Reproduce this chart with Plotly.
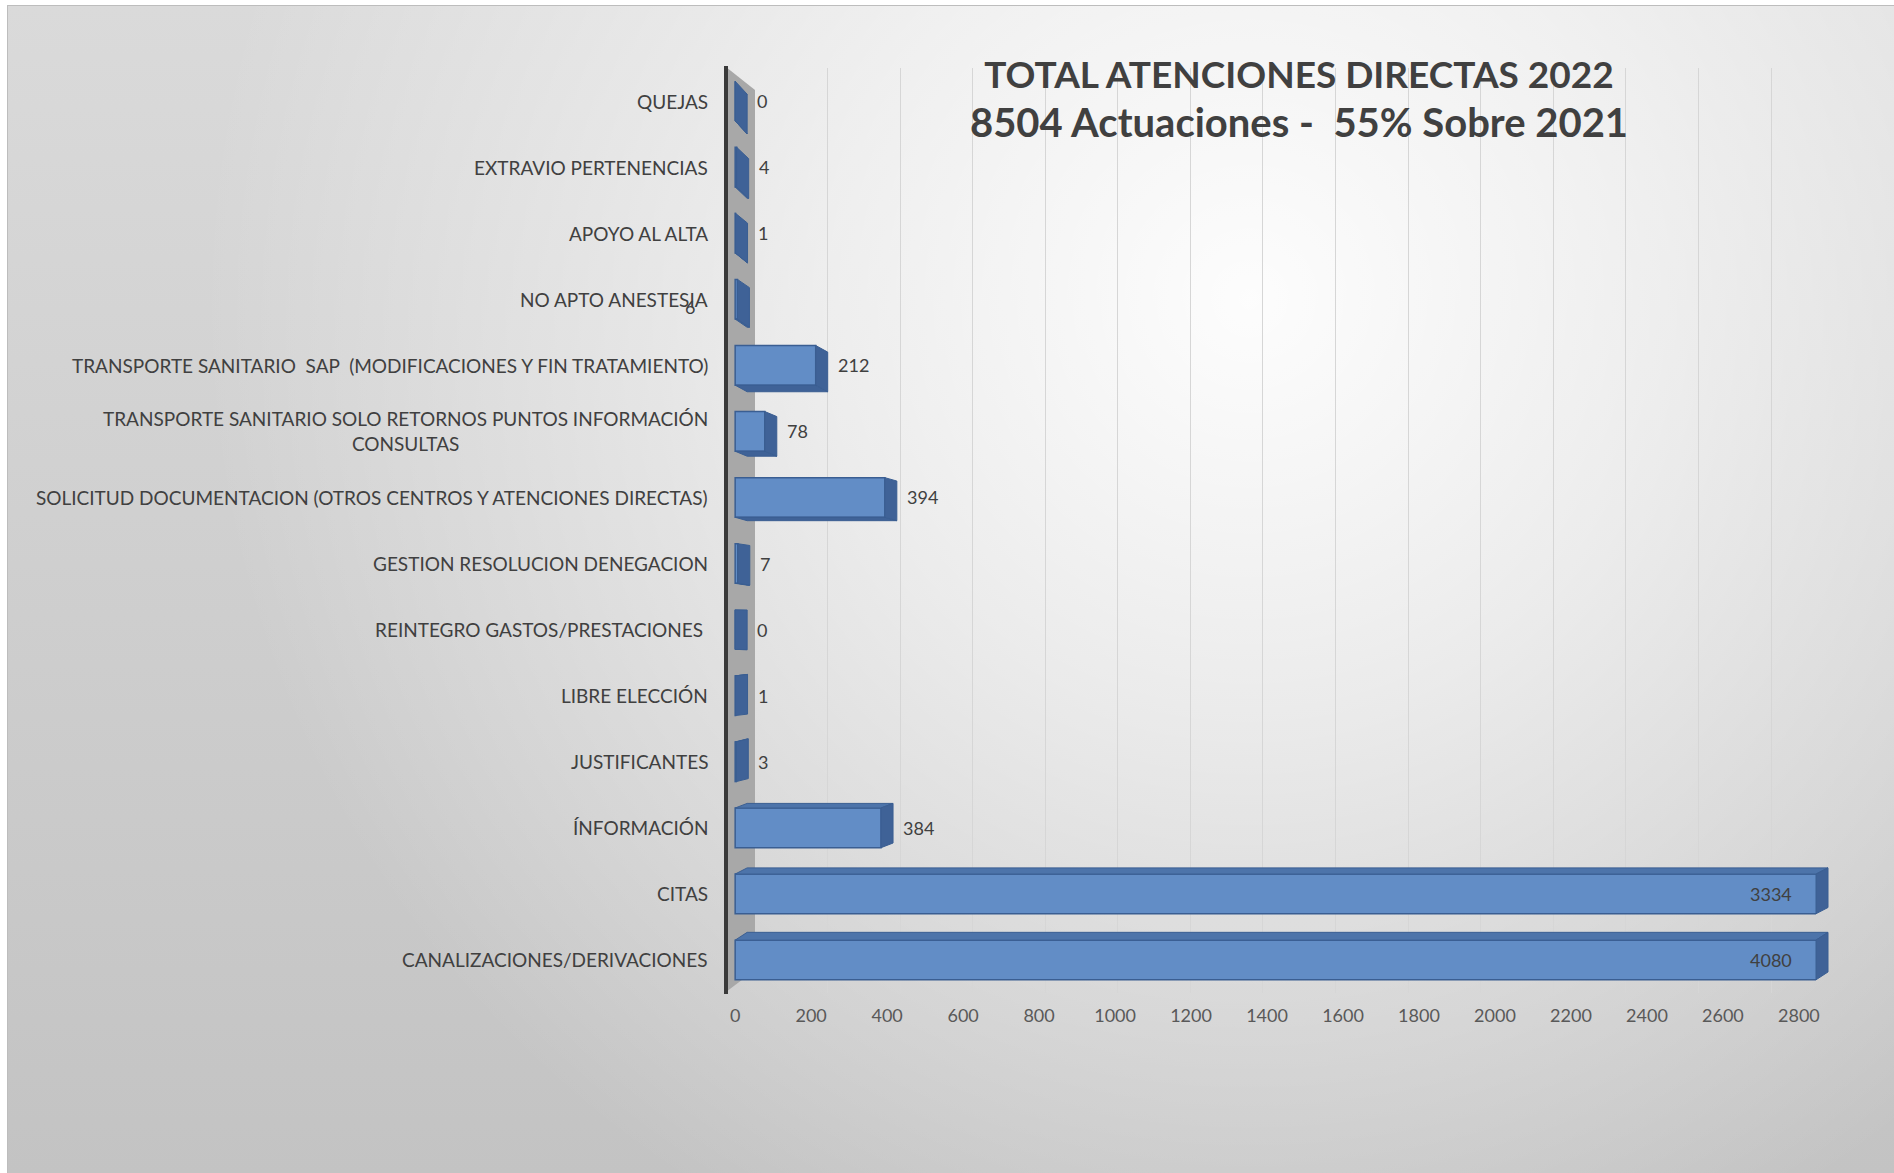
import base64
import plotly.graph_objects as go

# ---------------------------------------------------------------- data
categories = [
    "QUEJAS",
    "EXTRAVIO PERTENENCIAS",
    "APOYO AL ALTA",
    "NO APTO ANESTESIA",
    "TRANSPORTE SANITARIO  SAP  (MODIFICACIONES Y FIN TRATAMIENTO)",
    "TRANSPORTE SANITARIO SOLO RETORNOS PUNTOS INFORMACIÓN\nCONSULTAS",
    "SOLICITUD DOCUMENTACION (OTROS CENTROS Y ATENCIONES DIRECTAS)",
    "GESTION RESOLUCION DENEGACION",
    "REINTEGRO GASTOS/PRESTACIONES ",
    "LIBRE ELECCIÓN",
    "JUSTIFICANTES",
    "ÍNFORMACIÓN",
    "CITAS",
    "CANALIZACIONES/DERIVACIONES",
]
values = [0, 4, 1, 6, 212, 78, 394, 7, 0, 1, 3, 384, 3334, 4080]
x_ticks = [0, 200, 400, 600, 800, 1000, 1200, 1400, 1600, 1800, 2000, 2200, 2400, 2600, 2800]
title_lines = ["TOTAL ATENCIONES DIRECTAS 2022", "8504 Actuaciones - \u00a055% Sobre 2021"]

# ---------------------------------------------------------------- geometry / style
FIG_W, FIG_H = 1894, 1173
L, R, T, B = 723, 1816, 68, 993          # plot area in pixels
W, HP = R - L, B - T
X_LO, X_HI = -32, 2845                   # front-plane axis range
X2_LO, X2_HI = -88, 2924                 # back-wall grid range (perspective offset)
BAR_W = 0.6
DEPTH_X = 12                              # 3D depth, pixels

TXT = "#404040"
FRONT = "#628dc6"
EDGE = "#3a5e92"
SIDE = "#3f6297"
TOPF = "#4d74aa"
FONT = "Lato, Carlito, Calibri, sans-serif"

n = len(categories)


def px(xp):
    return (xp - L) / W


def py(yp):
    return 1 - (yp - T) / HP


def xpix(v):
    v = min(v, X_HI)
    return L + (v - X_LO) / (X_HI - X_LO) * W


def path(points):
    return "M " + " L ".join(f"{px(a):.5f},{py(b):.5f}" for a, b in points) + " Z"


# ---------------------------------------------------------------- background
svg = f"""<svg xmlns="http://www.w3.org/2000/svg" width="{FIG_W}" height="{FIG_H}" viewBox="0 0 {FIG_W} {FIG_H}">
<defs>
<linearGradient id="base" x1="0" y1="0" x2="0" y2="1">
<stop offset="0" stop-color="#dadada"/><stop offset="1" stop-color="#c3c3c3"/>
</linearGradient>
<radialGradient id="glow" gradientUnits="userSpaceOnUse" cx="1250" cy="300" r="1050">
<stop offset="0" stop-color="#ffffff" stop-opacity="0.95"/>
<stop offset="0.4" stop-color="#ffffff" stop-opacity="0.6"/>
<stop offset="1" stop-color="#ffffff" stop-opacity="0"/>
</radialGradient>
</defs>
<rect x="7.5" y="5.5" width="{FIG_W - 7}" height="{FIG_H - 5}" fill="url(#base)" stroke="#bdbdbd" stroke-width="1"/>
<rect x="8" y="6" width="{FIG_W - 8}" height="{FIG_H - 6}" fill="url(#glow)"/>
</svg>"""
bg_src = "data:image/svg+xml;base64," + base64.b64encode(svg.encode("utf-8")).decode("ascii")

# ---------------------------------------------------------------- figure
fig = go.Figure()

fig.add_trace(go.Bar(
    orientation="h",
    x=values,
    y=categories,
    width=BAR_W,
    marker=dict(color=FRONT, line=dict(color=EDGE, width=1.5)),
    hoverinfo="x+y",
    showlegend=False,
))

# empty trace that carries the back-wall grid axis
fig.add_trace(go.Scatter(x=[], y=[], xaxis="x2", yaxis="y", showlegend=False, hoverinfo="skip"))

shapes = []

# side wall of the 3D frame and the vertical axis line
shapes.append(dict(type="path", xref="paper", yref="paper", layer="below",
                   path=path([(726, 67), (755, 90), (755, 970), (726, 992)]),
                   fillcolor="#a8a8a8", line=dict(width=0)))
shapes.append(dict(type="line", xref="paper", yref="paper", layer="above",
                   x0=px(726), x1=px(726), y0=py(66), y1=py(994),
                   line=dict(color="#3a3a3a", width=4)))

# 3D faces of every bar (end cap, top or bottom face)
row_h = HP / n
for i, v in enumerate(values):
    yc = T + (i + 0.5) * row_h
    yt, yb = yc - BAR_W / 2 * row_h, yc + BAR_W / 2 * row_h
    x0, xe = xpix(0), xpix(v)
    dy = 13 - 1.6 * i
    if dy < 0:
        shapes.append(dict(type="path", xref="paper", yref="paper", layer="above",
                           path=path([(x0, yt), (xe, yt), (xe + DEPTH_X, yt + dy), (x0 + DEPTH_X, yt + dy)]),
                           fillcolor=TOPF, line=dict(color=EDGE, width=1)))
    else:
        shapes.append(dict(type="path", xref="paper", yref="paper", layer="above",
                           path=path([(x0, yb), (xe, yb), (xe + DEPTH_X, yb + dy), (x0 + DEPTH_X, yb + dy)]),
                           fillcolor=SIDE, line=dict(color=EDGE, width=1)))
    shapes.append(dict(type="path", xref="paper", yref="paper", layer="above",
                       path=path([(xe, yt), (xe + DEPTH_X, yt + dy), (xe + DEPTH_X, yb + dy), (xe, yb)]),
                       fillcolor=SIDE, line=dict(color=EDGE, width=1)))

annotations = []

# category labels (multi-line labels centred like the original)
for c in categories:
    annotations.append(dict(
        xref="paper", yref="y", x=0, y=c, xanchor="right", yanchor="middle",
        xshift=-13, align="center", showarrow=False,
        text=c.replace("\n", "<br>"),
        font=dict(family=FONT, size=19, color=TXT),
    ))

# value labels
label_nudge = {"NO APTO ANESTESIA": (-74, -8)}
for c, v in zip(categories, values):
    dx, dyl = label_nudge.get(c, (0, 0))
    if v > X_HI:
        annotations.append(dict(xref="x", yref="y", x=X_HI, y=c, xanchor="right", yanchor="middle",
                                xshift=-22, showarrow=False, text=str(v),
                                font=dict(family=FONT, size=18, color=TXT)))
    else:
        annotations.append(dict(xref="x", yref="y", x=v, y=c, xanchor="left", yanchor="middle",
                                xshift=DEPTH_X + 8 + dx, yshift=dyl, showarrow=False, text=str(v),
                                font=dict(family=FONT, size=18, color=TXT)))

title_text = (f'<span style="font-size:37px">{title_lines[0]}</span><br>'
              f'<span style="font-size:40px">{title_lines[1]}</span>')

fig.update_layout(
    width=FIG_W,
    height=FIG_H,
    margin=dict(l=L, r=FIG_W - R, t=T, b=FIG_H - B, pad=0),
    paper_bgcolor="#ffffff",
    plot_bgcolor="rgba(0,0,0,0)",
    bargap=0.4,
    title=dict(
        text=title_text,
        x=1299 / FIG_W, xref="container", xanchor="center",
        y=1 - 88 / FIG_H, yref="container", yanchor="middle",
        font=dict(family=FONT, size=38, color=TXT, weight="bold"),
    ),
    xaxis=dict(
        range=[X_LO, X_HI],
        tickvals=x_ticks,
        ticktext=[str(t) for t in x_ticks],
        showgrid=False, zeroline=False, showline=False,
        ticks="", ticklabelstandoff=10,
        tickfont=dict(family=FONT, size=18, color="#595959"),
        fixedrange=True,
    ),
    xaxis2=dict(
        overlaying="x", side="bottom",
        range=[X2_LO, X2_HI],
        tickvals=x_ticks[1:],
        showticklabels=False, showgrid=True, gridcolor="#d6d6d6", gridwidth=1,
        zeroline=False, showline=False, ticks="",
    ),
    yaxis=dict(
        type="category",
        categoryorder="array", categoryarray=categories,
        range=[n - 0.5, -0.5],
        showticklabels=False, showgrid=False, zeroline=False, showline=False,
        fixedrange=True,
    ),
    images=[dict(
        source=bg_src, xref="paper", yref="paper",
        x=-L / W, y=1 + T / HP, sizex=FIG_W / W, sizey=FIG_H / HP,
        xanchor="left", yanchor="top", sizing="stretch", layer="below",
    )],
    shapes=shapes,
    annotations=annotations,
)

fig.write_html("out.html")
